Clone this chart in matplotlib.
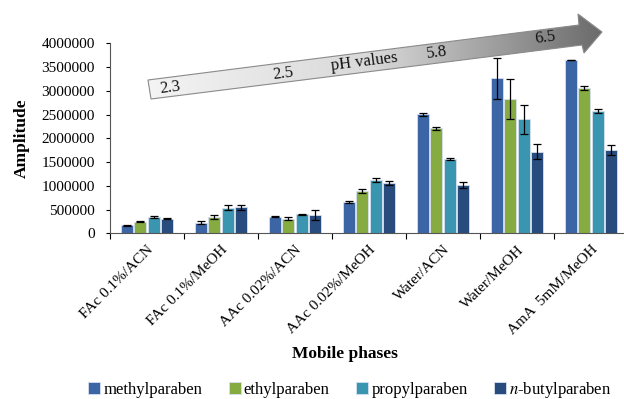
import matplotlib
matplotlib.use("Agg")
import matplotlib.pyplot as plt
import numpy as np
from matplotlib.patches import Polygon

plt.rcParams['font.family'] = ['Liberation Serif', 'DejaVu Serif']
plt.rcParams['mathtext.fontset'] = 'stix'

categories = ["FAc 0.1%/ACN", "FAc 0.1%/MeOH", "AAc 0.02%/ACN", "AAc 0.02%/MeOH",
              "Water/ACN", "Water/MeOH", "AmA  5mM/MeOH"]
series_names = ["methylparaben", "ethylparaben", "propylparaben", r"$n$-butylparaben"]
methyl = [170000, 220000, 350000, 665000, 2510000, 3260000, 3650000]
ethyl = [240000, 350000, 310000, 890000, 2210000, 2830000, 3060000]
propyl = [340000, 540000, 400000, 1120000, 1570000, 2400000, 2570000]
butyl = [310000, 550000, 385000, 1065000, 1020000, 1720000, 1750000]
methyl_err = [10000, 30000, 8000, 25000, 30000, 440000, 8000]
ethyl_err = [12000, 40000, 30000, 50000, 25000, 420000, 45000]
propyl_err = [20000, 50000, 8000, 40000, 20000, 310000, 45000]
butyl_err = [10000, 50000, 100000, 40000, 60000, 160000, 100000]
ph_labels = ["2.3", "2.5", "pH values", "5.8", "6.5"]
yticks = [0, 500000, 1000000, 1500000, 2000000, 2500000, 3000000, 3500000, 4000000]

colors = ["#3C65A5", "#86AC41", "#3A96B0", "#284C7E"]

W, H = 624, 399
fig = plt.figure(figsize=(W/100, H/100), dpi=100)
ax = fig.add_axes([110/W, 1-233.3/H, (628-110)/W, (233.3-43.3)/H])

x = np.arange(len(categories))
pitch = 0.18
width = 0.165
data = [methyl, ethyl, propyl, butyl]
errs = [methyl_err, ethyl_err, propyl_err, butyl_err]
for i in range(4):
    ax.bar(x + (i-1.5)*pitch, data[i], width, color=colors[i], edgecolor='#d6e0ee',
           linewidth=0.6, label=series_names[i], zorder=2,
           yerr=errs[i], error_kw=dict(ecolor='black', elinewidth=0.9, capsize=3, capthick=0.9))

ax.set_xlim(-0.5, len(categories)-0.5)
ax.set_ylim(0, 4000000)
ax.set_yticks(yticks)
ax.set_yticklabels([str(v) for v in yticks], fontsize=11)
ax.set_xticks(np.arange(len(categories)+1)-0.5, minor=False)
ax.set_xticklabels([])
ax.set_xticks(x, minor=True)
ax.set_xticklabels(categories, minor=True, rotation=45, ha='right', va='top',
                   rotation_mode='anchor', fontsize=11)
ax.tick_params(axis='x', which='minor', length=0, pad=7)
ax.tick_params(axis='x', which='major', length=4, direction='out')
ax.tick_params(axis='y', length=3, direction='out', pad=8)
for s in ['top', 'right']:
    ax.spines[s].set_visible(False)
ax.spines['left'].set_color('#555555')
ax.spines['bottom'].set_color('#555555')
ax.set_ylabel("Amplitude", fontsize=12.5, fontweight='bold', labelpad=8)
fig.text(345/W, 1-354/H, "Mobile phases", fontsize=12.5, fontweight='bold', ha='center', va='center')

handles, labels = ax.get_legend_handles_labels()
fig.legend(handles, labels, loc='center', bbox_to_anchor=(350/W, 1-390/H), ncol=4,
           frameon=False, fontsize=12, handlelength=0.7, handleheight=0.7,
           handletextpad=0.2, columnspacing=1.6)

# gradient arrow overlay
ov = fig.add_axes([0, 0, 1, 1], zorder=5)
ov.set_xlim(0, W)
ov.set_ylim(H, 0)
ov.axis('off')
ov.patch.set_alpha(0)
pts = [(151, 99), (148, 80), (579, 25), (578, 14), (602, 32), (584, 53), (582, 45)]
poly = Polygon(pts, closed=True, facecolor='none', edgecolor='#8a8a8a', linewidth=0.8, zorder=3)
ov.add_patch(poly)
grad = np.linspace(0, 1, 256).reshape(1, -1)
im = ov.imshow(grad, cmap=matplotlib.colors.LinearSegmentedColormap.from_list(
    'g', ['#f4f4f4', '#d8d8d8', '#6a6a6a']), extent=(146, 604, 100, 12),
    aspect='auto', zorder=2)
im.set_clip_path(poly)
ang = np.degrees(np.arctan2(57, 454))
pos = [(170, 88), (283, 74), (364, 62), (437, 53), (545, 38)]
for (px_, py_), t in zip(pos, ph_labels):
    ov.text(px_, py_, t, fontsize=12, rotation=ang, ha='center', va='center',
            rotation_mode='anchor', zorder=4, color='#111111')

fig.savefig("out.png", dpi=100)
